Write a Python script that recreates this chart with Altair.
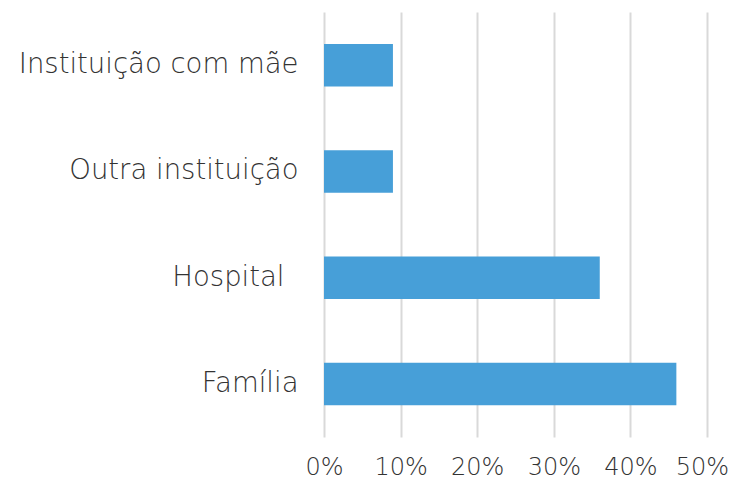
import altair as alt
import pandas as pd

categories = ["Instituição com mãe", "Outra instituição", "Hospital", "Família"]
values = [0.09, 0.09, 0.36, 0.46]
x_ticks = [0, 0.1, 0.2, 0.3, 0.4, 0.5]

df = pd.DataFrame({"categoria": categories, "valor": values})

FONT = "DejaVu Sans"
TEXT = "#333333"

chart = alt.Chart(df).mark_bar(color="#479FD8").encode(
    y=alt.Y(
        "categoria:N",
        sort=categories,
        title=None,
        scale=alt.Scale(paddingInner=0.6, paddingOuter=0.3),
        axis=alt.Axis(
            domain=False, ticks=False, grid=False,
            labelFont=FONT, labelFontSize=27.5, labelFontWeight=200,
            labelColor=TEXT, labelLimit=400,
            labelPadding={"condition": {"test": "datum.value == 'Hospital'", "value": 40}, "value": 26},
        ),
    ),
    x=alt.X(
        "valor:Q",
        title=None,
        scale=alt.Scale(domain=[0, 0.5], nice=False),
        axis=alt.Axis(
            values=x_ticks, format=".0%", domain=False, ticks=False, tickSize=0,
            grid=True, gridColor="#d9d9d9", gridWidth=2,
            labelFont=FONT, labelFontSize=24, labelFontWeight=200,
            labelColor=TEXT, labelPadding=18, labelFlush=False,
            labelOffset={"condition": {"test": "datum.value >= 0.5", "value": -5}, "value": 0},
        ),
    ),
).properties(
    width=383,
    height=425,
    autosize=alt.AutoSizeParams(type="none"),
    padding={"left": 316, "top": 4, "right": 23, "bottom": 47},
).configure_view(stroke=None)

chart.save("out.html", embed_options={"renderer": "svg", "actions": False})
